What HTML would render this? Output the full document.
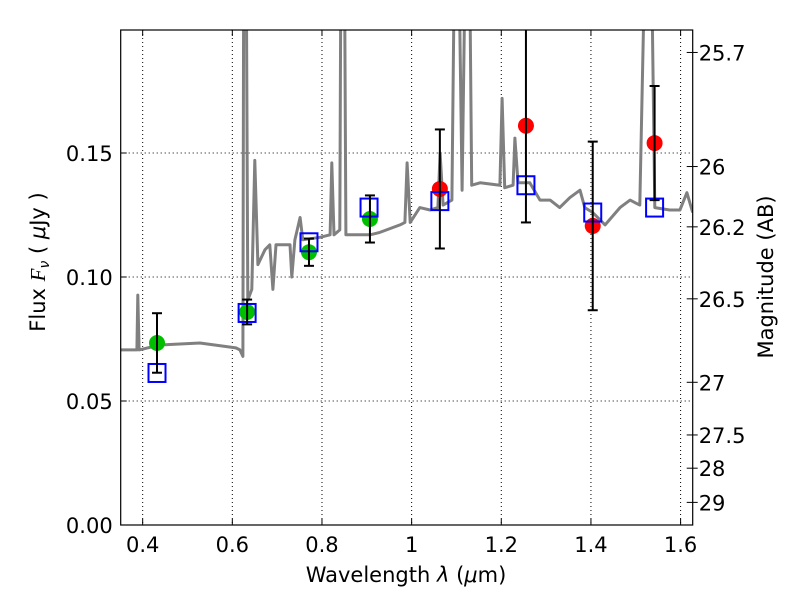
<!DOCTYPE html>
<html><head><meta charset="utf-8"><style>
body{margin:0;background:#fff}
svg{display:block;font-family:"DejaVu Sans","Liberation Sans",sans-serif}
</style></head><body>
<svg id="chart" width="800" height="600"></svg>
<script>
const specWl=[0.351,0.3872,0.3892,0.3921,0.4382,0.5276,0.6080,0.6169,0.6237,0.6257,0.6306,0.6345,0.6434,0.6502,0.6571,0.6728,0.6836,0.6905,0.6974,0.7287,0.7327,0.7396,0.7513,0.7572,0.7955,0.8181,0.8220,0.8269,0.8397,0.8426,0.8495,0.8534,0.9074,0.9290,0.9741,0.9849,0.9898,0.9967,1.0183,1.0409,1.0585,1.0635,1.0703,1.0899,1.0968,1.1037,1.1125,1.1213,1.1282,1.1341,1.1528,1.1969,1.2018,1.2077,1.2264,1.2303,1.2372,1.2636,1.2863,1.3088,1.3304,1.3530,1.3756,1.3864,1.4040,1.4315,1.4649,1.4874,1.5090,1.5228,1.5336,1.5424,1.5758,1.5984,1.6141,1.627];
const specFlux=[0.0706,0.0706,0.0927,0.0706,0.0726,0.0734,0.0714,0.0706,0.068,0.25,0.25,0.0907,0.095,0.147,0.105,0.111,0.113,0.095,0.113,0.113,0.100,0.115,0.124,0.115,0.116,0.117,0.146,0.117,0.119,0.25,0.25,0.117,0.117,0.118,0.121,0.122,0.146,0.122,0.128,0.127,0.128,0.150,0.129,0.131,0.25,0.25,0.135,0.25,0.25,0.137,0.138,0.137,0.172,0.136,0.137,0.156,0.138,0.138,0.131,0.131,0.128,0.132,0.135,0.128,0.126,0.121,0.128,0.131,0.129,0.25,0.25,0.128,0.127,0.127,0.134,0.126];
const greenWl=[0.432,0.633,0.771,0.907];
const greenFlux=[0.0734,0.0859,0.110,0.1234];
const greenErr=[0.012,0.005,0.0055,0.0095];
const redWl=[1.063,1.255,1.404,1.542];
const redFlux=[0.1355,0.161,0.1206,0.154];
const redErr=[0.024,0.039,0.034,0.023];
const modelWl=[0.432,0.633,0.771,0.905,1.063,1.255,1.404,1.542];
const modelFlux=[0.0613,0.0855,0.114,0.128,0.1306,0.137,0.126,0.128];
const xTicks=[0.4,0.6,0.8,1.0,1.2,1.4,1.6];
const xTickLabels=["0.4","0.6","0.8","1","1.2","1.4","1.6"];
const yTicks=[0,0.05,0.10,0.15];
const yTickLabels=["0.00","0.05","0.10","0.15"];
const magTicks=[25.7,26,26.2,26.5,27,27.5,28,29];

const L=120.7,R=692.7,T=30,B=525,X0=0.351,X1=1.627,Y0=0,Y1=0.1996;
const sx=v=>L+(v-X0)/(X1-X0)*(R-L);
const sy=v=>B-(v-Y0)/(Y1-Y0)*(B-T);
const NS="http://www.w3.org/2000/svg";
const svg=document.getElementById('chart');
function mk(tag,at,parent){const e=document.createElementNS(NS,tag);for(const k in at)e.setAttribute(k,at[k]);(parent||svg).appendChild(e);return e;}
const defs=mk('defs',{});const cp=mk('clipPath',{id:'clip'},defs);mk('rect',{x:L,y:T,width:R-L,height:B-T},cp);

const grid=mk('g',{});


xTicks.forEach(v=>{mk('line',{x1:sx(v),x2:sx(v),y1:T,y2:B,stroke:'#000','stroke-width':1,'stroke-dasharray':'1,3'},grid);});
yTicks.forEach(v=>{mk('line',{x1:L,x2:R,y1:sy(v),y2:sy(v),stroke:'#000','stroke-width':1,'stroke-dasharray':'1,3'},grid);});

const g=mk('g',{'clip-path':'url(#clip)'});
let d=specWl.map((w,i)=>(i?'L':'M')+sx(w).toFixed(1)+','+sy(specFlux[i]).toFixed(1)).join('');
const sp=mk('path',{d:d,fill:'none',stroke:'#808080','stroke-width':3,'stroke-linejoin':'round'},g);



function errbar(w,f,e,name){
  const eg=mk('g',{'clip-path':'url(#clip)'});
  
  
  const x=sx(w);
  mk('line',{x1:x,x2:x,y1:sy(f+e),y2:sy(f-e),stroke:'#000','stroke-width':2},eg);
  [f+e,f-e].forEach(v=>mk('line',{x1:x-5,x2:x+5,y1:sy(v),y2:sy(v),stroke:'#000','stroke-width':2},eg));
}
greenWl.forEach((w,i)=>{
  const c=mk('circle',{cx:sx(w),cy:sy(greenFlux[i]),r:8,fill:'#00bf00'});
  
  
});
redWl.forEach((w,i)=>{
  const c=mk('circle',{cx:sx(w),cy:sy(redFlux[i]),r:8,fill:'#ff0000'});
  
  
});
modelWl.forEach((w,i)=>{
  const s=mk('rect',{x:sx(w)-8.5,y:sy(modelFlux[i])-9,width:17,height:18,fill:'none',stroke:'#0000ff','stroke-width':2});
  
  
});
greenWl.forEach((w,i)=>errbar(w,greenFlux[i],greenErr[i],'green-errorbar'));
redWl.forEach((w,i)=>errbar(w,redFlux[i],redErr[i],'red-errorbar'));

const frame=mk('rect',{x:L,y:T,width:R-L,height:B-T,fill:'none',stroke:'#000','stroke-width':1.2});



xTicks.forEach((v,i)=>{
  mk('line',{x1:sx(v),x2:sx(v),y1:B,y2:B-6,stroke:'#000'});
  mk('line',{x1:sx(v),x2:sx(v),y1:T,y2:T+6,stroke:'#000'});
  const t=mk('text',{x:sx(v),y:B+27,'text-anchor':'middle','font-size':21});
  t.textContent=xTickLabels[i];
  
  
});
yTicks.forEach((v,i)=>{
  mk('line',{x1:L,x2:L+6,y1:sy(v),y2:sy(v),stroke:'#000'});
  const t=mk('text',{x:L-8,y:sy(v)+8,'text-anchor':'end','font-size':21});
  t.textContent=yTickLabels[i];
  
  
});
magTicks.forEach(m=>{
  const f=Math.pow(10,(23.9-m)/2.5);const y=sy(f);
  mk('line',{x1:R-6,x2:R+5,y1:y,y2:y,stroke:'#000'});
  const t=mk('text',{x:R+6,y:y+8,'font-size':21});
  t.textContent=String(m);
  
  
});
const xl=mk('text',{x:406,y:582,'text-anchor':'middle','font-size':21});
xl.innerHTML='Wavelength  <tspan font-style="italic">λ</tspan> (<tspan font-style="italic">μ</tspan>m)';


const yl=mk('text',{x:0,y:0,'text-anchor':'middle','font-size':21,transform:'translate(45,262) rotate(-90)'});
yl.innerHTML='Flux  <tspan font-style="italic" font-family="Liberation Serif">F</tspan><tspan font-style="italic" font-size="14" dy="4">ν</tspan><tspan dy="-4">  (  </tspan><tspan font-style="italic">μ</tspan>Jy )';


const ml=mk('text',{x:0,y:0,'text-anchor':'middle','font-size':21,transform:'translate(773,277) rotate(-90)'});
ml.textContent='Magnitude (AB)';


</script>
</body></html>
